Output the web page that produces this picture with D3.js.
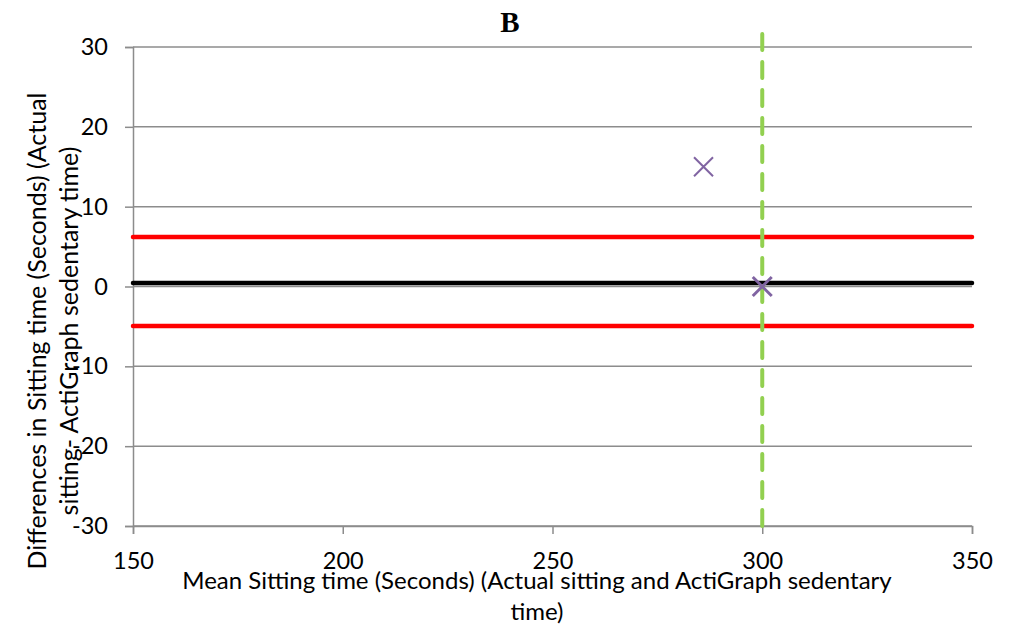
<!DOCTYPE html>
<html><head><meta charset="utf-8">
<script src="https://cdn.jsdelivr.net/npm/d3@7"></script>
<style>body{margin:0;background:#fff}</style>
</head><body>
<svg id="c" width="1018" height="627"></svg>
<script>
const xTicks = [150, 200, 250, 300, 350];
const yTicks = [-30, -20, -10, 0, 10, 20, 30];
const points = [[286, 15], [300, 0]];
const meanDiff = [0.45];
const limits = [6.2, -4.95];
const refX = [300];
const refYRange = [-30, 31.9];

const svg = d3.select("#c");
const m = {l:133, r:972, t:47, b:526};
const x = d3.scaleLinear().domain([150,350]).range([m.l, m.r]);
const y = d3.scaleLinear().domain([-30,30]).range([m.b, m.t]);
const font = "Lato, 'Open Sans', sans-serif";

// gridlines
svg.append("g").selectAll("line").data(yTicks).join("line")
  .attr("x1", m.l).attr("x2", m.r).attr("y1", d=>y(d)).attr("y2", d=>y(d))
  .attr("stroke", "#8c8c8c").attr("stroke-width", 1.5);

// y axis
const ya = svg.append("g").attr("transform", `translate(${m.l},0)`)
  .call(d3.axisLeft(y).tickValues(yTicks).tickSize(8).tickPadding(17).tickFormat(d => String(d)));
ya.select(".domain").attr("stroke", "#8c8c8c").attr("stroke-width", 1.5);
ya.selectAll(".tick line").attr("stroke", "#8c8c8c").attr("stroke-width", 1.5);
ya.selectAll("text").attr("font-family", font).attr("font-size", 23.5).attr("fill", "#000");

// x axis
const xa = svg.append("g").attr("transform", `translate(0,${m.b})`)
  .call(d3.axisBottom(x).tickValues(xTicks).tickSize(8).tickPadding(18).tickFormat(d => String(d)));
xa.select(".domain").attr("stroke", "#8c8c8c").attr("stroke-width", 1.5);
xa.selectAll(".tick line").attr("stroke", "#8c8c8c").attr("stroke-width", 1.5);
xa.selectAll("text").attr("font-family", font).attr("font-size", 23.5).attr("fill", "#000");

// limit lines
svg.append("g").selectAll("line").data(limits).join("line")
  .attr("x1", x(150)).attr("x2", x(350)).attr("y1", d=>y(d)).attr("y2", d=>y(d))
  .attr("stroke", "#ff0000").attr("stroke-width", 4.5).attr("stroke-linecap","round");
svg.append("g").selectAll("line").data(meanDiff).join("line")
  .attr("x1", x(150)).attr("x2", x(350)).attr("y1", d=>y(d)).attr("y2", d=>y(d))
  .attr("stroke", "#000").attr("stroke-width", 4.5).attr("stroke-linecap","round");

// vertical dashed reference line
svg.append("g").selectAll("line").data(refX).join("line")
  .attr("x1", d=>x(d)).attr("x2", d=>x(d)).attr("y1", y(refYRange[0])).attr("y2", y(refYRange[1]))
  .attr("stroke", "#92d050").attr("stroke-width", 4).attr("stroke-dasharray", "16,12")
  .attr("stroke-linecap","round");

// points (x markers)
const s = 9.5;
const pg = svg.append("g").selectAll("g").data(points).join("g")
  .attr("transform", d=>`translate(${x(d[0])},${y(d[1])})`);
pg.append("path").attr("d", `M${-s},${-s}L${s},${s}M${-s},${s}L${s},${-s}`)
  .attr("stroke", "#8064a2").attr("stroke-width", (d,i)=> i===1 ? 3 : 2).attr("fill","none");

// title
svg.append("text").attr("x", 510).attr("y", 32).attr("text-anchor","middle")
  .attr("font-family","'Liberation Serif', 'Times New Roman', serif").attr("font-weight","bold")
  .attr("font-size", 29).text("B");

// y title
const yt = svg.append("text").attr("transform", "translate(0,331) rotate(-90)")
  .attr("text-anchor","middle").attr("font-family", font).attr("font-size", 25);
yt.append("tspan").attr("x",0).attr("y",46).text("Differences in Sitting time (Seconds) (Actual");
yt.append("tspan").attr("x",0).attr("y",78).text("sitting- ActiGraph sedentary time)");

// x title
const xt = svg.append("text").attr("text-anchor","middle").attr("font-family", font).attr("font-size", 24);
xt.append("tspan").attr("x",537).attr("y",589).text("Mean Sitting time (Seconds) (Actual sitting and ActiGraph sedentary");
xt.append("tspan").attr("x",537).attr("y",620).text("time)");
</script>
</body></html>
